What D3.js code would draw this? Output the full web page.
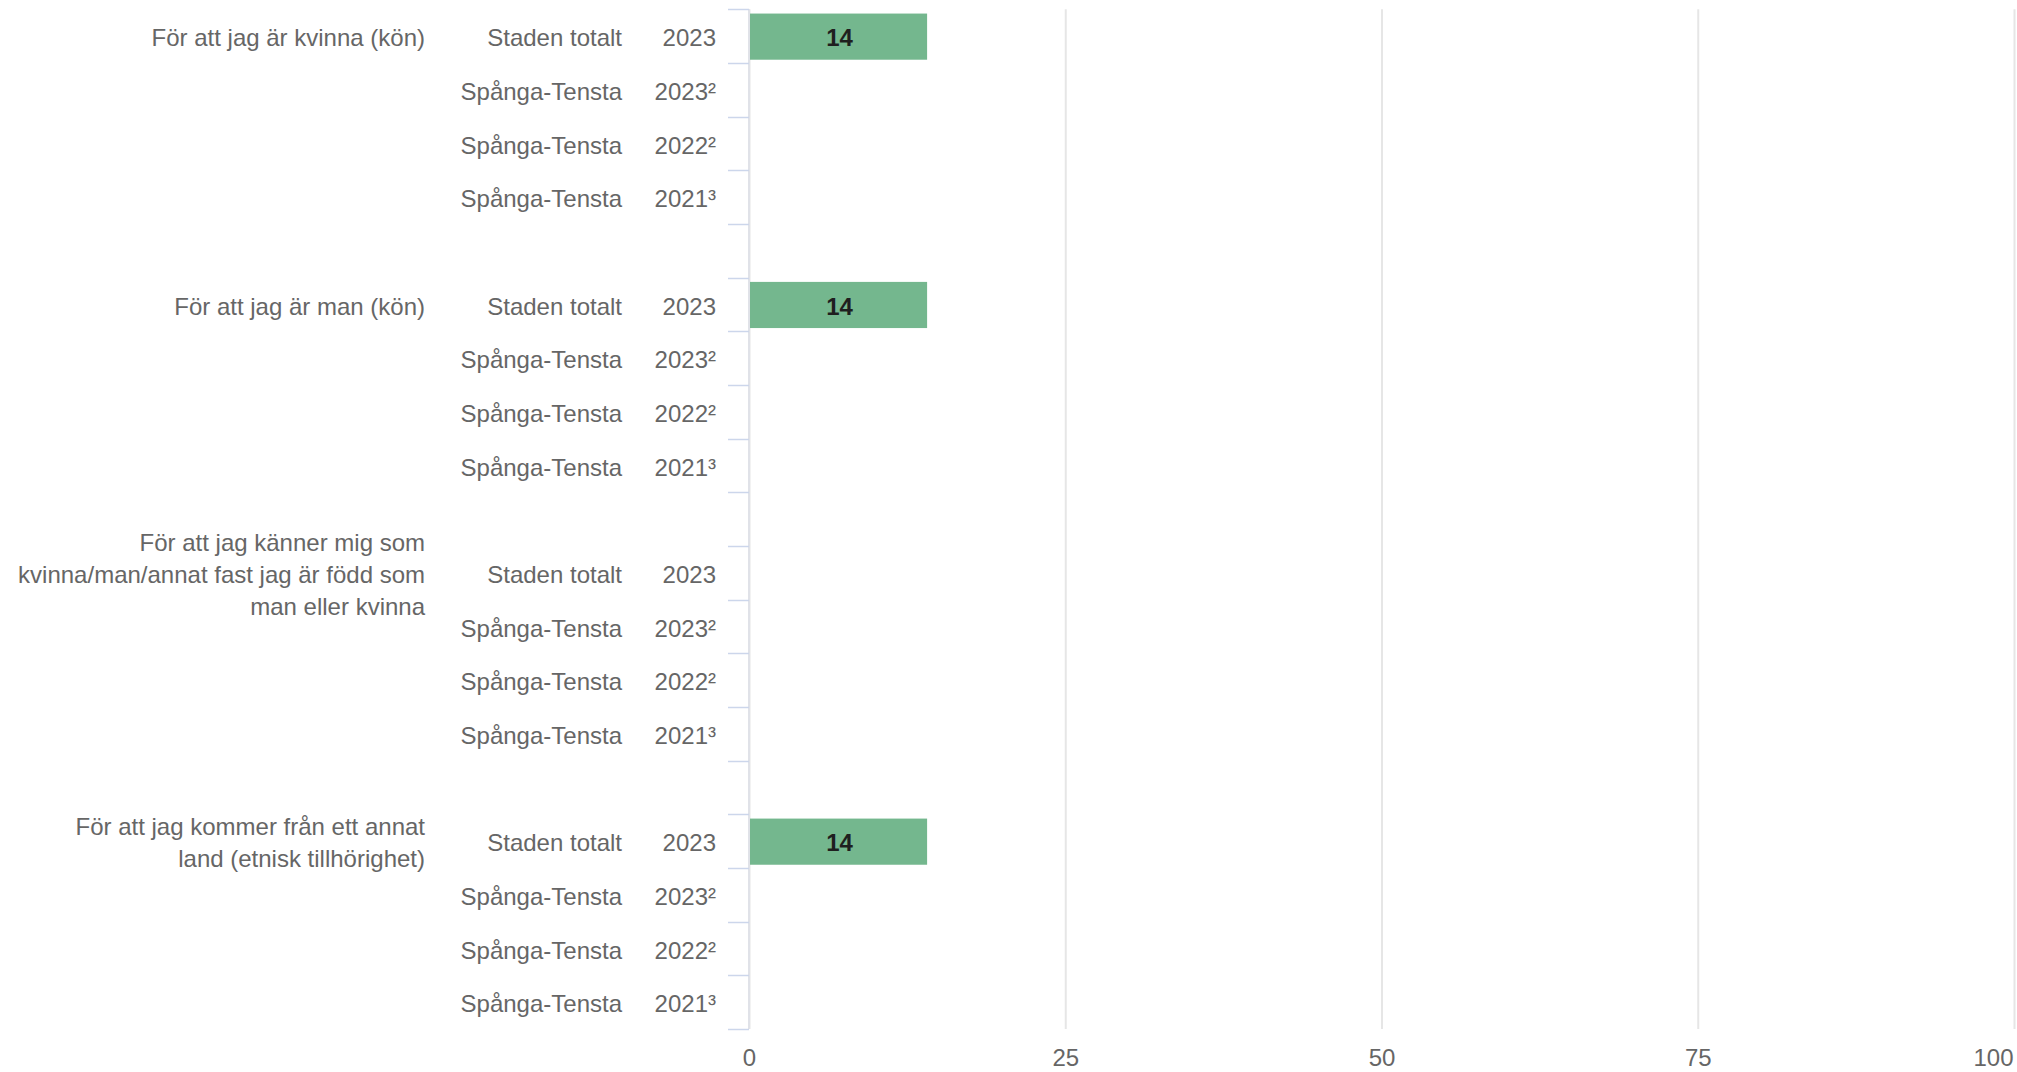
<!DOCTYPE html>
<html>
<head>
<meta charset="utf-8">
<script src="https://cdn.jsdelivr.net/npm/d3@7"></script>
<style>
  body { margin: 0; background: #fff; }
  svg { display: block; font-family: "Liberation Sans", Arial, sans-serif; }
</style>
</head>
<body>
<svg id="chart"></svg>
<script>
// question labels, already split in lines as in the original
const questions = [
  ["För att jag är kvinna (kön)"],
  ["För att jag är man (kön)"],
  ["För att jag känner mig som", "kvinna/man/annat fast jag är född som", "man eller kvinna"],
  ["För att jag kommer från ett annat", "land (etnisk tillhörighet)"]
];
const areas = ["Staden totalt", "Spånga-Tensta", "Spånga-Tensta", "Spånga-Tensta"];
const years = ["2023", "2023²", "2022²", "2021³"];

// one row of values per question, same order as areas/years (null = no bar)
const values = [
  [14, null, null, null],
  [14, null, null, null],
  [null, null, null, null],
  [14, null, null, null]
];

const xTicks = [0, 25, 50, 75, 100];

const ctx = {
  width: 2017,
  height: 1072,
  plotLeft: 749,
  plotRight: 2014,
  plotTop: 9.3,
  plotBottom: 1029,
  questionRight: 425,
  areaRight: 622,
  yearRight: 716,
  tickLen: 21,
  fontSize: 24,
  lineHeight: 32,
  barColor: "#74b78e",
  textColor: "#666666"
};

const svg = d3.select("#chart")
  .attr("width", ctx.width)
  .attr("height", ctx.height);

// build rows: 4 per question, blank spacer row between questions
const rows = [];
questions.forEach((q, gi) => {
  areas.forEach((a, si) => {
    rows.push({ key: gi + "-" + si, group: gi, sub: si, area: a, year: years[si], value: values[gi][si] });
  });
  if (gi < questions.length - 1) rows.push({ key: gi + "-gap", group: gi, sub: -1 });
});

const y = d3.scaleBand()
  .domain(rows.map(d => d.key))
  .range([ctx.plotTop, ctx.plotBottom])
  .padding(0);

const x = d3.scaleLinear()
  .domain([0, 100])
  .range([ctx.plotLeft, ctx.plotRight]);

// gridlines + value axis labels
const xAxis = svg.append("g")
  .attr("transform", `translate(0, ${ctx.plotBottom})`)
  .call(d3.axisBottom(x).tickValues(xTicks).tickSize(-(ctx.plotBottom - ctx.plotTop)).tickPadding(0));

xAxis.select(".domain").remove();
xAxis.selectAll(".tick line")
  .attr("stroke", "#e6e6e6")
  .attr("stroke-width", 2);
xAxis.selectAll(".tick text")
  .attr("y", ctx.height - 6 - ctx.plotBottom)
  .attr("dy", 0)
  .attr("fill", ctx.textColor)
  .style("font-size", ctx.fontSize + "px")
  .style("font-family", "\"Liberation Sans\", Arial, sans-serif");
// last label is pushed inside the chart
xAxis.selectAll(".tick text")
  .filter(d => d === 100)
  .attr("text-anchor", "end")
  .attr("x", -1);

// category axis line
svg.append("line")
  .attr("x1", ctx.plotLeft)
  .attr("x2", ctx.plotLeft)
  .attr("y1", ctx.plotTop)
  .attr("y2", ctx.plotBottom)
  .attr("stroke", "#e0e2e8")
  .attr("stroke-width", 2);

// category ticks at every row boundary
const tickYs = rows.map(d => y(d.key)).concat([ctx.plotBottom]);
svg.selectAll("line.cat-tick")
  .data(tickYs)
  .enter()
  .append("line")
    .attr("class", "cat-tick")
    .attr("x1", ctx.plotLeft - ctx.tickLen)
    .attr("x2", ctx.plotLeft)
    .attr("y1", d => Math.round(d) + 0.5)
    .attr("y2", d => Math.round(d) + 0.5)
    .attr("stroke", "#ccd6eb")
    .attr("stroke-width", 1.5);

const dataRows = rows.filter(d => d.sub >= 0);

// area labels
svg.selectAll("text.area")
  .data(dataRows)
  .enter()
  .append("text")
    .attr("class", "area")
    .attr("x", ctx.areaRight)
    .attr("y", d => y(d.key) + y.bandwidth() / 2)
    .attr("dy", "0.42em")
    .attr("text-anchor", "end")
    .attr("fill", ctx.textColor)
    .style("font-size", ctx.fontSize + "px")
    .text(d => d.area);

// year labels
svg.selectAll("text.year")
  .data(dataRows)
  .enter()
  .append("text")
    .attr("class", "year")
    .attr("x", ctx.yearRight)
    .attr("y", d => y(d.key) + y.bandwidth() / 2)
    .attr("dy", "0.42em")
    .attr("text-anchor", "end")
    .attr("fill", ctx.textColor)
    .style("font-size", ctx.fontSize + "px")
    .text(d => d.year);

// question labels, centred on the first row of each group
questions.forEach((lines, gi) => {
  const cy = y(gi + "-0") + y.bandwidth() / 2;
  const t = svg.append("text")
    .attr("text-anchor", "end")
    .attr("fill", ctx.textColor)
    .style("font-size", ctx.fontSize + "px");
  lines.forEach((line, li) => {
    t.append("tspan")
      .attr("x", ctx.questionRight)
      .attr("y", cy + (li - (lines.length - 1) / 2) * ctx.lineHeight)
      .attr("dy", "0.42em")
      .text(line);
  });
});

// bars
const barH = y.bandwidth() * 0.86;
const bars = dataRows.filter(d => d.value != null);

svg.selectAll("rect.bar")
  .data(bars)
  .enter()
  .append("rect")
    .attr("class", "bar")
    .attr("x", x(0) + 1)
    .attr("y", d => y(d.key) + (y.bandwidth() - barH) / 2 + 0.5)
    .attr("width", d => x(d.value) - x(0))
    .attr("height", barH)
    .attr("fill", ctx.barColor);

svg.selectAll("text.value")
  .data(bars)
  .enter()
  .append("text")
    .attr("class", "value")
    .attr("x", d => (x(0) + x(d.value)) / 2 + 2)
    .attr("y", d => y(d.key) + y.bandwidth() / 2)
    .attr("dy", "0.42em")
    .attr("text-anchor", "middle")
    .attr("fill", "#1f1f1f")
    .style("font-size", ctx.fontSize + "px")
    .style("font-weight", "bold")
    .text(d => d.value);
</script>
</body>
</html>
